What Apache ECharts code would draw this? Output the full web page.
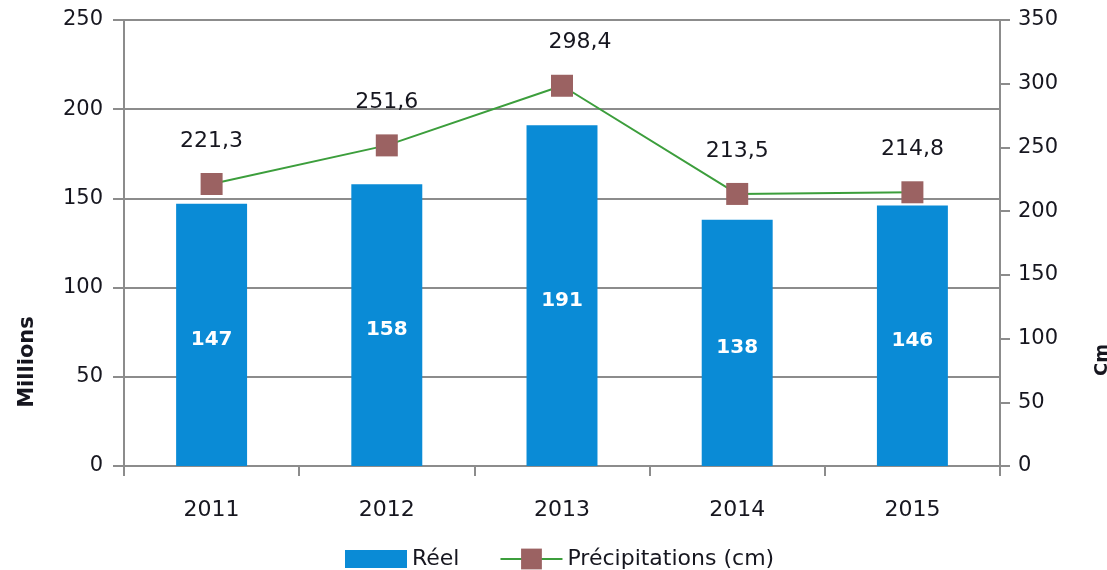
<!DOCTYPE html>
<html>
<head>
<meta charset="utf-8">
<script src="https://cdn.jsdelivr.net/npm/echarts@6/dist/echarts.min.js"></script>
<style>
html,body{margin:0;padding:0;background:#fff;}
#chart{width:1107px;height:570px;}
</style>
</head>
<body>
<div id="chart"></div>
<script>
const categories = ['2011', '2012', '2013', '2014', '2015'];
const reel = [147, 158, 191, 138, 146];
const precipitations = [221.3, 251.6, 298.4, 213.5, 214.8];
const leftTicks = { min: 0, max: 250, interval: 50 };
const rightTicks = { min: 0, max: 350, interval: 50 };

const FONT = 'DejaVu Sans';
const TXT = '#16161f';
const AX = '#8c8c8c';

const chart = echarts.init(document.getElementById('chart'), null, { renderer: 'canvas' });
chart.setOption({
  animation: false,
  backgroundColor: '#ffffff',
  textStyle: { fontFamily: FONT },
  grid: { left: 124, right: 107, top: 20, bottom: 104, containLabel: false },
  legend: {
    top: 546,
    left: 345,
    itemWidth: 62,
    itemHeight: 26,
    itemGap: 40,
    padding: 0,
    textStyle: { fontFamily: FONT, fontSize: 22, color: TXT },
    data: [
      { name: 'Réel', icon: 'path://M0,0L0,0M0,4L62,4L62,22L0,22ZM62,26L62,26' },
      { name: 'Précipitations (cm)' }
    ]
  },
  xAxis: {
    type: 'category',
    data: categories,
    boundaryGap: true,
    axisLine: { lineStyle: { color: AX, width: 2 } },
    axisTick: { show: true, length: 10, lineStyle: { color: AX, width: 2 } },
    axisLabel: { fontFamily: FONT, fontSize: 22, color: TXT, margin: 33 }
  },
  yAxis: [
    {
      type: 'value',
      min: leftTicks.min, max: leftTicks.max, interval: leftTicks.interval,
      position: 'left',
      axisLine: { show: true, lineStyle: { color: AX, width: 2 } },
      axisTick: { show: true, length: 11, lineStyle: { color: AX, width: 2 } },
      axisLabel: { fontFamily: FONT, fontSize: 21, color: TXT, margin: 21 },
      splitLine: { show: true, lineStyle: { color: AX, width: 2 } }
    },
    {
      type: 'value',
      min: rightTicks.min, max: rightTicks.max, interval: rightTicks.interval,
      position: 'right',
      axisLine: { show: true, lineStyle: { color: AX, width: 2 } },
      axisTick: { show: true, length: 10, lineStyle: { color: AX, width: 2 } },
      axisLabel: { fontFamily: FONT, fontSize: 21, color: TXT, margin: 18 },
      splitLine: { show: false }
    }
  ],
  graphic: [
    {
      type: 'text', x: 28, y: 362, rotation: Math.PI / 2,
      style: { text: 'Millions', fontFamily: FONT, fontSize: 21, fontWeight: 'bold', fill: TXT, align: 'center', verticalAlign: 'middle' }
    },
    {
      type: 'text', x: 1102, y: 360, rotation: Math.PI / 2,
      style: { text: 'Cm', fontFamily: FONT, fontSize: 18, fontWeight: 'bold', fill: TXT, align: 'center', verticalAlign: 'middle' }
    }
  ],
  series: [
    {
      name: 'Réel',
      type: 'bar',
      yAxisIndex: 0,
      data: reel,
      barWidth: '40.5%',
      itemStyle: { color: '#0a8bd6' },
      label: {
        show: true, position: 'inside', offset: [0, 5],
        color: '#ffffff', fontFamily: FONT, fontSize: 20, fontWeight: 'bold'
      },
      z: 2
    },
    {
      name: 'Précipitations (cm)',
      type: 'line',
      yAxisIndex: 1,
      data: precipitations.map((v, i) => i === 2 ? { value: v, label: { offset: [18, 0] } } : v),
      symbol: 'rect',
      symbolSize: 22,
      lineStyle: { color: '#3c9e3c', width: 2 },
      itemStyle: { color: '#9b6262' },
      label: {
        show: true, position: 'top', distance: 21,
        fontFamily: FONT, fontSize: 22, color: TXT,
        formatter: p => String(p.value).replace('.', ',')
      },
      z: 3
    }
  ]
});
</script>
</body>
</html>
